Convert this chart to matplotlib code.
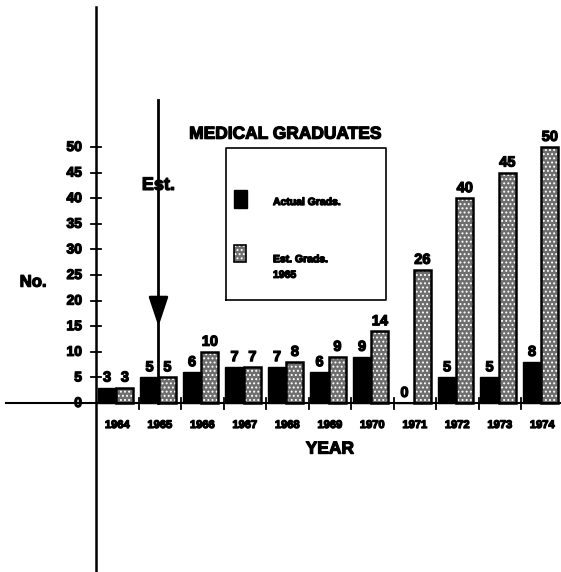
import numpy as np
import matplotlib
matplotlib.use("Agg")
import matplotlib.pyplot as plt
import matplotlib.patheffects as pe

years = ["1964", "1965", "1966", "1967", "1968", "1969",
         "1970", "1971", "1972", "1973", "1974"]
actual_grads = [3, 5, 6, 7, 7, 6, 9, 0, 5, 5, 8]
est_grads_1965 = [3, 5, 10, 7, 8, 9, 14, 26, 40, 45, 50]
y_ticks = [0, 5, 10, 15, 20, 25, 30, 35, 40, 45, 50]

plt.rcParams["font.family"] = ["Liberation Sans", "DejaVu Sans"]
plt.rcParams["hatch.linewidth"] = 0.9

# thicken the bold lettering a little
heavy = [pe.withStroke(linewidth=0.9, foreground="black")]

W, H = 561, 572
fig = plt.figure(figsize=(W / 100, H / 100), dpi=100)
ax = fig.add_axes([0, 0, 1, 1])

# pixel layout: origin at (96, 403), one category = 42.5 px, one unit = 5.12 px
x0, y0, cat_px, unit_px = 96, 403, 42.5, 5.12
ax.set_xlim(-x0 / cat_px, (W - x0) / cat_px)
ax.set_ylim(-(H - y0) / unit_px, y0 / unit_px)


def label(xv, yv, s, size, **kw):
    ax.text(xv, yv, s, fontsize=size, fontweight="bold",
            path_effects=heavy, **kw)


def stipple_bar(xs, hs, w, bottom=0, lw=1.8):
    # gray fill with white dot pattern, then a black outline on top
    ax.bar(xs, hs, width=w, bottom=bottom, align="edge", color="#6e6e6e",
           edgecolor="white", hatch="....", linewidth=0)
    return ax.bar(xs, hs, width=w, bottom=bottom, align="edge", fill=False,
                  edgecolor="black", linewidth=lw)


x = np.arange(len(years))
b1 = ax.bar(x + 0.04, actual_grads, width=0.44, align="edge",
            color="black", edgecolor="black", linewidth=1)
b2 = stipple_bar(x + 0.48, est_grads_1965, 0.40)

for bars, vals in ((b1, actual_grads), (b2, est_grads_1965)):
    for r, v in zip(bars, vals):
        label(r.get_x() + r.get_width() / 2, v + 0.6, str(v), 10.5,
              ha="center", va="bottom")

# axes drawn as crossing lines
ax.axvline(0, color="black", lw=1.8, ymin=0, ymax=(H - 7) / H)
ax.plot([-(x0 - 6) / cat_px, len(years)], [0, 0], color="black", lw=1.5)

for sp in ax.spines.values():
    sp.set_visible(False)
ax.set_xticks([])
ax.set_yticks([])

for t in y_ticks:
    ax.plot([-0.12, 0.12], [t, t], color="black", lw=1.3)
    label(-0.33, t, str(t), 10, ha="right", va="center")
for i in range(1, len(years) + 1):
    ax.plot([i, i], [-1.2, 1.0], color="black", lw=1.3)
for i, yr in enumerate(years):
    label(i + 0.5, -4.3, yr, 8, ha="center", va="center")

label(5.5, -9.0, "YEAR", 12.5, ha="center", va="center")
label(-1.48, 23.6, "No.", 12, ha="center", va="center")
label(4.45, 52.5, "MEDICAL GRADUATES", 12.5, ha="center", va="center")

# "Est." marker arrow at 1965
ax.plot([1.47, 1.47], [59.2, 0], color="black", lw=2)
ax.annotate("", xy=(1.47, 14.4), xytext=(1.47, 19.6),
            arrowprops=dict(arrowstyle="-|>,head_length=1.8,head_width=0.6",
                            color="black", lw=2))
label(1.47, 42.5, "Est.", 13, ha="center", va="center")

# legend box
lx0, lx1 = (226 - x0) / cat_px, (386 - x0) / cat_px
ly0, ly1 = (y0 - 300) / unit_px, (y0 - 148) / unit_px
ax.plot([lx0, lx1, lx1, lx0, lx0], [ly0, ly0, ly1, ly1, ly0],
        color="black", lw=1.2)
ax.bar((234 - x0) / cat_px, 3.6, width=13 / cat_px, bottom=(y0 - 208) / unit_px,
       align="edge", color="black", edgecolor="black")
stipple_bar((234 - x0) / cat_px, 3.3, 12 / cat_px, bottom=(y0 - 262) / unit_px,
            lw=1.2)
label((273 - x0) / cat_px, (y0 - 202) / unit_px, "Actual Grads.", 7.5,
      ha="left", va="center")
label((273 - x0) / cat_px, (y0 - 267) / unit_px, "Est. Grads.\n1965", 7.5,
      ha="left", va="center", linespacing=1.7)

fig.savefig("out.png", dpi=100)
